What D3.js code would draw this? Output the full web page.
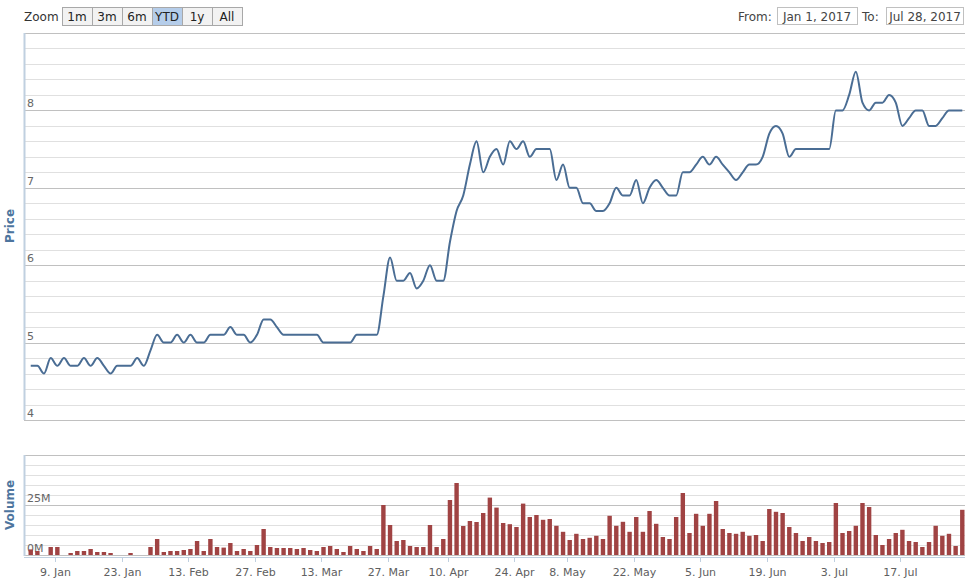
<!DOCTYPE html>
<html><head><meta charset="utf-8">
<script src="https://cdn.jsdelivr.net/npm/d3@7"></script>
<style>body{margin:0;background:#fff}svg{font-family:"DejaVu Sans",Verdana,sans-serif}</style>
</head><body><svg id="c" width="970" height="586"></svg>
<script>
const prices=[4.7,4.7,4.6,4.8,4.7,4.8,4.7,4.7,4.8,4.7,4.8,4.7,4.6,4.7,4.7,4.7,4.8,4.7,
4.9,5.1,5.0,5.0,5.1,5.0,5.1,5.0,5.0,5.1,5.1,5.1,5.2,5.1,5.1,5.0,5.1,5.3,5.3,5.2,5.1,5.1,5.1,5.1,5.1,5.1,
5.0,5.0,5.0,5.0,5.0,5.1,5.1,5.1,5.1,5.6,6.1,5.8,5.8,5.9,5.7,5.8,6.0,5.8,5.8,6.3,6.7,6.9,7.3,7.6,7.2,7.4,
7.5,7.3,7.6,7.5,7.6,7.4,7.5,7.5,7.5,7.1,7.3,7.0,7.0,6.8,6.8,6.7,6.7,6.8,7.0,6.9,6.9,7.1,6.8,7.0,7.1,7.0,
6.9,6.9,7.2,7.2,7.3,7.4,7.3,7.4,7.3,7.2,7.1,7.2,7.3,7.3,7.4,7.7,7.8,7.7,7.4,7.5,7.5,7.5,7.5,7.5,7.5,8.0,
8.0,8.2,8.5,8.1,8.0,8.1,8.1,8.2,8.1,7.8,7.9,8.0,8.0,7.8,7.8,7.9,8.0,8.0,8.0];
const volumes=[2.8,2,0,4,4,0,1,2,2,3,1.5,1.5,1,0,0,1,0,0,4,8,1.5,2,2,2.5,3,7,2,8,4,3.7,6,2,3,2,5,13,4,3.5,3.5,3.5,
3,3.5,2.5,2,4,4.5,3,1.5,4.5,3,2,4.5,3,25,15,7,7.5,4.5,4,4,15,4,8,27.5,36,14.5,17,16.5,21,28.7,23.7,16,15.4,14,
25.7,19,20,17.6,18,14.6,11.6,7.5,10.6,8,8.6,9.6,8,19.6,14.6,16.6,11.6,19,11.6,22,15.6,9,8,19,31,11,20.6,14.6,
20.6,27,13,11,10.6,11.6,9.6,10,7,23,21.6,21,14,11,7,9,7,6,6.5,26,11,12,14.6,26,24,10,5,8,11,12.6,7,6.5,4,6.5,
14.6,9.6,10.6,4.5,22.6];
const tickLabels=["9. Jan","23. Jan","13. Feb","27. Feb","13. Mar","27. Mar","10. Apr","24. Apr","8. May","22. May","5. Jun","19. Jun","3. Jul","17. Jul"];
const tickIdx=[4,14,24,34,44,54,63,73,81,91,101,111,121,131];
const priceTicks=[4,5,6,7,8];
const volTicks=[0,25];
const zoomButtons=["1m","3m","6m","YTD","1y","All"];

const svg=d3.select("#c");
const L=24,R=965;
const x=d3.scaleLinear().domain([-0.35-1,140.35]).range([24.1,965]);
// calibrate: data index i drawn at xd(i)
const xd=i=>28.4+6.654*(i+0.35);
const xt=i=>28.4+6.654*i;
const y=d3.scaleLinear().domain([4,9]).range([420,33]);
const yv=d3.scaleLinear().domain([0,50]).range([555,455]);

// price grid
for(let v=4;v<=9.001;v+=0.2){const vv=Math.round(v*10)/10;const major=Math.abs(vv-Math.round(vv))<1e-6;
 svg.append("line").attr("x1",L).attr("x2",R).attr("y1",Math.round(y(vv))+0.5).attr("y2",Math.round(y(vv))+0.5)
 .attr("stroke",major?"#c0c0c0":"#e0e0e0").attr("stroke-width",1);}
priceTicks.forEach(t=>svg.append("text").attr("x",27).attr("y",y(t)-3).attr("font-size",11).attr("fill","#666").text(t));
// volume grid
for(let v=0;v<=50;v+=5){svg.append("line").attr("x1",L).attr("x2",R).attr("y1",Math.round(yv(v))+0.5).attr("y2",Math.round(yv(v))+0.5)
 .attr("stroke",(v%25===0)?"#c0c0c0":"#e0e0e0");}
volTicks.forEach(t=>svg.append("text").attr("x",27).attr("y",yv(t)-3).attr("font-size",11).attr("fill","#666").text(t+"M"));
// left axis lines
svg.append("line").attr("x1",L+0.5).attr("x2",L+0.5).attr("y1",33).attr("y2",420).attr("stroke","#c0d0e0").attr("stroke-width",2);
svg.append("line").attr("x1",L+0.5).attr("x2",L+0.5).attr("y1",455).attr("y2",556).attr("stroke","#c0d0e0").attr("stroke-width",2);

// clip
svg.append("clipPath").attr("id","cp").append("rect").attr("x",L).attr("y",30).attr("width",R-L).attr("height",530);
const g=svg.append("g").attr("clip-path","url(#cp)");
// bars
g.selectAll("rect.v").data(volumes).join("rect").attr("class","v")
 .attr("x",(d,i)=>xd(i)-2.2).attr("width",4.4).attr("y",d=>yv(d)).attr("height",d=>yv(0)-yv(d)).attr("fill","#a04343");
// line
g.append("path").datum(prices).attr("fill","none").attr("stroke","#4a6d94").attr("stroke-width",2)
 .attr("d",d3.line().x((d,i)=>xd(i)).y(d=>y(d)).curve(d3.curveMonotoneX));

// x axis
svg.append("line").attr("x1",L).attr("x2",R).attr("y1",557.5).attr("y2",557.5).attr("stroke","#c0d0e0");
tickIdx.forEach((t,k)=>{const xx=Math.round(xt(t))+0.5;
 svg.append("line").attr("x1",xx).attr("x2",xx).attr("y1",557).attr("y2",562).attr("stroke","#c0d0e0");
 svg.append("text").attr("x",xx).attr("y",576).attr("text-anchor","middle").attr("font-size",11).attr("fill","#606060").text(tickLabels[k]);});

// axis titles
svg.append("text").attr("transform","translate(14,226) rotate(-90)").attr("text-anchor","middle").attr("font-size",12).attr("font-weight","bold").attr("fill","#4d759e").text("Price");
svg.append("text").attr("transform","translate(14,505) rotate(-90)").attr("text-anchor","middle").attr("font-size",12).attr("font-weight","bold").attr("fill","#4d759e").text("Volume");

// zoom buttons
svg.append("text").attr("x",24).attr("y",21).attr("font-size",12).attr("fill","#333").text("Zoom");
zoomButtons.forEach((b,k)=>{const bx=62+k*30;
 svg.append("rect").attr("x",bx+0.5).attr("y",7.5).attr("width",30).attr("height",18).attr("fill",b==="YTD"?"#b5cdea":"#f2f2f2").attr("stroke","#a8a8a8");
 svg.append("text").attr("x",bx+15).attr("y",21).attr("text-anchor","middle").attr("font-size",12).attr("fill","#222").text(b);});
// date inputs
svg.append("text").attr("x",738).attr("y",21).attr("font-size",12).attr("fill","#444").text("From:");
svg.append("rect").attr("x",777.5).attr("y",7.5).attr("width",80).attr("height",17).attr("fill","#fff").attr("stroke","#c0c0c0");
svg.append("text").attr("x",817).attr("y",21).attr("text-anchor","middle").attr("font-size",12).attr("fill","#444").text("Jan 1, 2017");
svg.append("text").attr("x",862).attr("y",21).attr("font-size",12).attr("fill","#444").text("To:");
svg.append("rect").attr("x",886.5).attr("y",7.5).attr("width",77).attr("height",17).attr("fill","#fff").attr("stroke","#c0c0c0");
svg.append("text").attr("x",925).attr("y",21).attr("text-anchor","middle").attr("font-size",12).attr("fill","#444").text("Jul 28, 2017");
</script></body></html>
